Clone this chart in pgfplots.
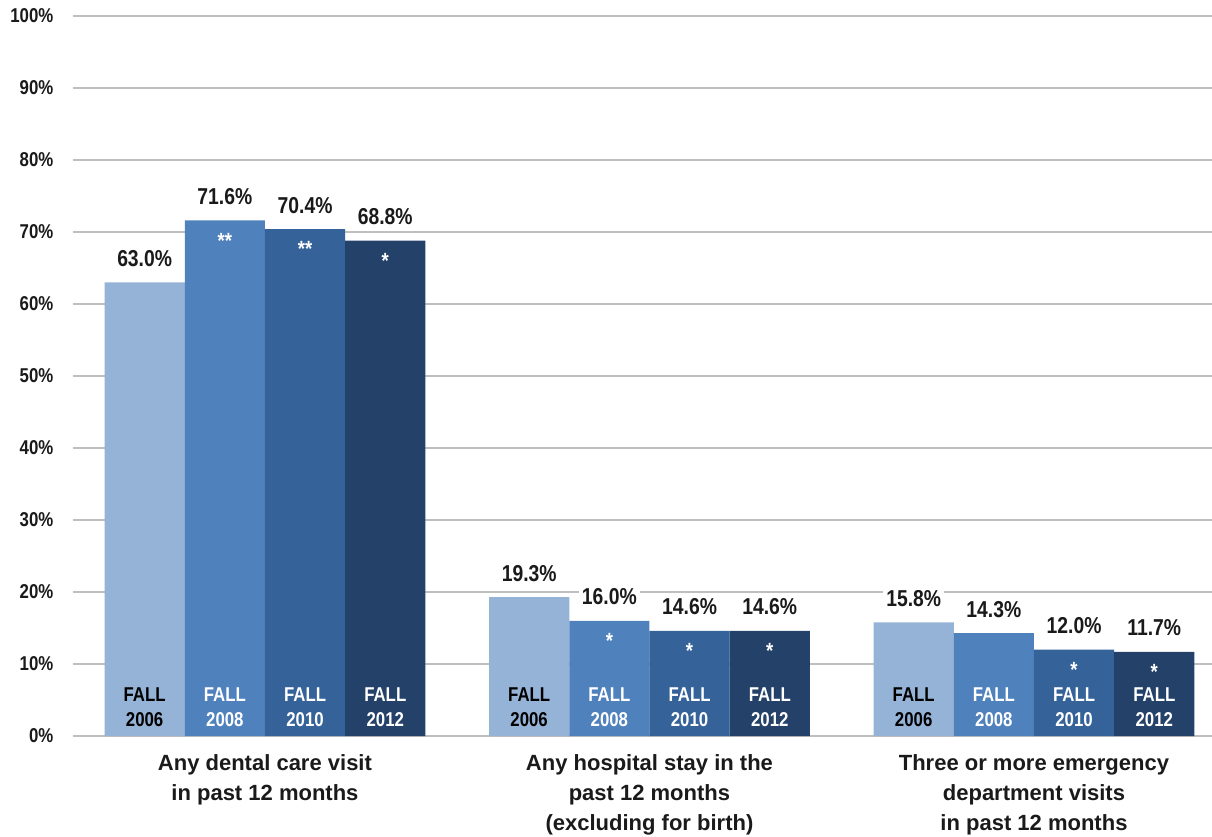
\documentclass[border=0pt]{standalone}
\usepackage{pgfplots}
\pgfplotsset{compat=1.18}
\usepackage{fontspec}
\setmainfont{Liberation Sans}
\newfontfamily\narrow{Liberation Sans}[FakeStretch=0.84]
\definecolor{c1}{HTML}{95B3D7}
\definecolor{c2}{HTML}{4F81BD}
\definecolor{c3}{HTML}{356399}
\definecolor{c4}{HTML}{244169}
\definecolor{gridc}{HTML}{BFBFBF}
\definecolor{txt}{HTML}{1A1A1A}
\pgfplotsset{
  valstyle/.style={
    nodes near coords={\pgfmathprintnumber[fixed,fixed zerofill,precision=1,assume math mode=true]{\pgfplotspointmeta}\%},
    every node near coord/.append style={font=\narrow\bfseries\fontsize{11.5}{13}\selectfont, text=txt, fill=white, inner sep=1.5pt, anchor=base, yshift=8pt}
  },
  starstyle/.style={
    draw=none, fill=none, point meta=explicit symbolic,
    nodes near coords,
    every node near coord/.append style={font=\narrow\bfseries\fontsize{11}{13}\selectfont, text=white, inner sep=0pt, anchor=center, yshift=-10pt}
  },
  fallstyle/.style 2 args={
    draw=none, fill=none,
    nodes near coords={FALL\\#1},
    every node near coord/.append style={align=center, font=\narrow\bfseries\fontsize{10}{12.5}\selectfont, text=#2, inner sep=0pt, anchor=south, yshift=4.5pt}
  },
}
\begin{document}
\begin{tikzpicture}
\useasboundingbox (-36.35pt,-50pt) rectangle (569.6pt,368pt);
\begin{axis}[
  at={(0,0)}, anchor=south west,
  scale only axis, width=569.6pt, height=360pt,
  xmin=-0.5, xmax=2.463, ymin=0, ymax=100,
  ybar, bar width=0.2086,
  ytick={0,10,20,30,40,50,60,70,80,90,100},
  yticklabels={0\%,10\%,20\%,30\%,40\%,50\%,60\%,70\%,80\%,90\%,100\%},
  xtick={0,1,2},
  xticklabels={{Any dental care visit\\in past 12 months},{Any hospital stay in the\\past 12 months\\(excluding for birth)},{Three or more emergency\\department visits\\in past 12 months}},
  xticklabel style={align=center, font=\bfseries\fontsize{11}{15}\selectfont, text=txt, anchor=north, inner sep=0pt, yshift=-9pt},
  yticklabel style={font=\narrow\bfseries\fontsize{10}{12}\selectfont, text=txt, anchor=east, inner sep=0pt, xshift=-9.5pt},
  axis line style={draw=none},
  major tick length=0pt,
  ymajorgrids, grid style={gridc, line width=1pt},
  clip=false,
]
\addplot[fill=c1, draw=none, bar shift=-0.3129, valstyle] coordinates {(0,63.0) (1,19.3) (2,15.8)};
\addplot[fill=c2, draw=none, bar shift=-0.1043, valstyle] coordinates {(0,71.6) (1,16.0) (2,14.3)};
\addplot[fill=c3, draw=none, bar shift=0.1043, valstyle] coordinates {(0,70.4) (1,14.6) (2,12.0)};
\addplot[fill=c4, draw=none, bar shift=0.3129, valstyle] coordinates {(0,68.8) (1,14.6) (2,11.7)};
\addplot[bar shift=-0.1043, starstyle] coordinates {(0,71.6) [**] (1,16.0) [*]};
\addplot[bar shift=0.1043, starstyle] coordinates {(0,70.4) [**] (1,14.6) [*] (2,12.0) [*]};
\addplot[bar shift=0.3129, starstyle] coordinates {(0,68.8) [*] (1,14.6) [*] (2,11.7) [*]};
\addplot[bar shift=-0.3129, fallstyle={2006}{black}] coordinates {(0,0) (1,0) (2,0)};
\addplot[bar shift=-0.1043, fallstyle={2008}{white}] coordinates {(0,0) (1,0) (2,0)};
\addplot[bar shift=0.1043, fallstyle={2010}{white}] coordinates {(0,0) (1,0) (2,0)};
\addplot[bar shift=0.3129, fallstyle={2012}{white}] coordinates {(0,0) (1,0) (2,0)};
\end{axis}
\end{tikzpicture}
\end{document}
